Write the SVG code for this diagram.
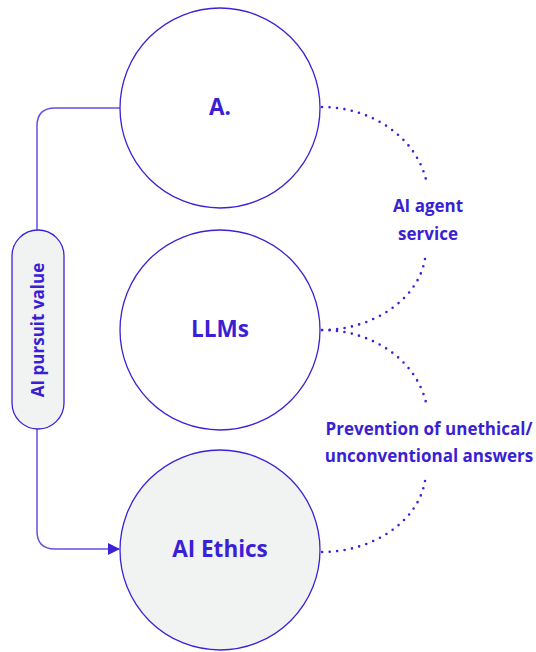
<svg xmlns="http://www.w3.org/2000/svg" width="536" height="652" viewBox="0 0 536 652">
<style>
.node{fill:#ffffff;stroke:#3b22d6;stroke-width:1.3}
.grey{fill:#f1f2f2}
.lbl{font-family:"Open Sans","Liberation Sans",sans-serif;font-weight:bold;fill:#3a1fd4;text-anchor:middle;dominant-baseline:central}
.big{font-size:22.5px}
.small{font-size:17px}
.conn{fill:none;stroke:#6451e0;stroke-width:1.5}
.dot{fill:none;stroke:#3b22d6;stroke-width:2.6;stroke-linecap:round;stroke-dasharray:0 7.5}
</style>
<defs>
<marker id="arr" markerWidth="12" markerHeight="12" refX="11" refY="6" orient="auto" markerUnits="userSpaceOnUse">
<path d="M0,0 L12,6 L0,12 Z" fill="#3b22d6"/>
</marker>
</defs>
<g id="connectors">
<path class="conn" d="M120,108 H55 Q37,108 37,126 V230"/>
<path class="conn" d="M37,429 V531 Q37,549 55,549 H119" marker-end="url(#arr)"/>
<path class="dot" d="M322,107 C372,107 418,138 427,184"/>
<path class="dot" d="M425,259 C418,300 372,330 322,330"/>
<path class="dot" d="M322,330 C372,330 418,360 427,407"/>
<path class="dot" d="M425,481 C418,522 372,552 322,552"/>
</g>
<g id="node-a">
<circle class="node" cx="220" cy="108" r="100"/>
<text class="lbl big" x="220" y="106">A.</text>
</g>
<g id="node-llms">
<circle class="node" cx="220" cy="330" r="100"/>
<text class="lbl big" x="220" y="328">LLMs</text>
</g>
<g id="node-ethics">
<circle class="node grey" cx="220" cy="550" r="100"/>
<text class="lbl big" x="220" y="548">AI Ethics</text>
</g>
<g id="node-pill">
<rect class="node grey" x="12" y="230" width="52" height="199" rx="26"/>
<text class="lbl small" transform="translate(37,330) rotate(-90)">AI pursuit value</text>
</g>
<g id="label-agent">
<text class="lbl small" x="428" y="205">AI agent</text>
<text class="lbl small" x="428" y="233">service</text>
</g>
<g id="label-prevention">
<text class="lbl small" x="429" y="428">Prevention of unethical/</text>
<text class="lbl small" x="429" y="455">unconventional answers</text>
</g>
</svg>
